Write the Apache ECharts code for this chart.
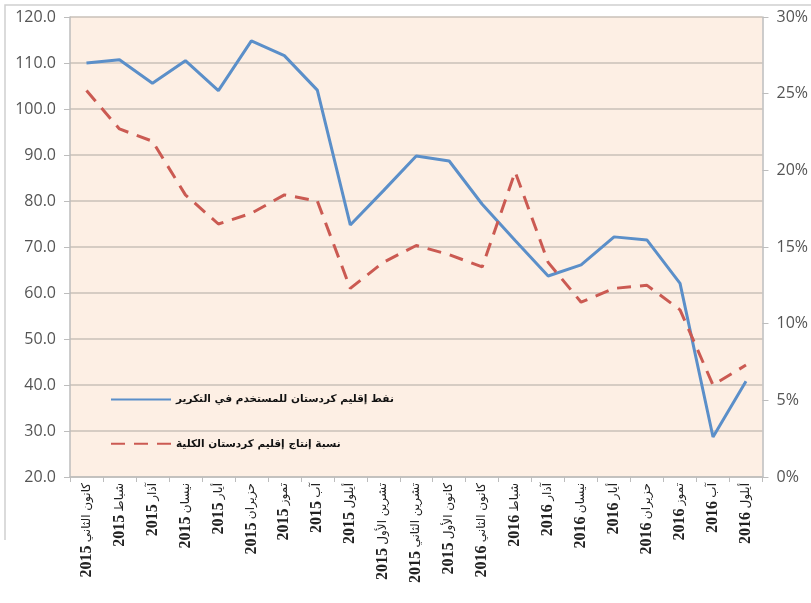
<!DOCTYPE html>
<html><head><meta charset="utf-8">
<script src="https://cdn.jsdelivr.net/npm/echarts@6/dist/echarts.min.js"></script>
<style>html,body{margin:0;padding:0;background:#fff}#c{width:811px;height:603px}</style>
</head><body><div id="c"></div>
<script>
const months = ['كانون الثاني','شباط','آذار','نيسان','أيار','حزيران','تموز','آب','أيلول','تشرين الأول','تشرين الثاني','كانون الأول','كانون الثاني','شباط','آذار','نيسان','أيار','حزيران','تموز','آب','أيلول'];
const years = ['2015','2015','2015','2015','2015','2015','2015','2015','2015','2015','2015','2015','2016','2016','2016','2016','2016','2016','2016','2016','2016'];
const oilUsed = [110.0,110.7,105.6,110.5,104.0,114.8,111.6,104.1,74.8,82.2,89.8,88.7,79.3,71.4,63.7,66.1,72.2,71.5,62.1,28.7,40.8];
const prodShare = [25.2,22.7,21.9,18.4,16.5,17.2,18.4,18.0,12.3,14.0,15.1,14.5,13.7,19.9,14.0,11.4,12.3,12.5,10.9,6.0,7.3];
const leftTicks = {min:20, max:120, interval:10};
const rightTicks = {min:0, max:30, interval:5};
const seriesNames = ['نفط إقليم كردستان للمستخدم في التكرير','نسبة إنتاج إقليم كردستان الكلية'];

const categories = months.map((m,i)=>years[i]+' '+m);
const chart = echarts.init(document.getElementById('c'));
chart.setOption({
  backgroundColor:'#fff',
  animation:false,
  graphic:[{type:'polyline',shape:{points:[[5,540],[5,5],[811,5]]},style:{stroke:'#d0d0d0',lineWidth:1.5,fill:null}}],
  grid:{left:70,right:46,top:17,bottom:126,show:true,backgroundColor:'#FDEFE4',borderWidth:0},
  legend:{orient:'vertical',left:105,top:389,itemGap:33,itemWidth:60,itemHeight:14,
    itemStyle:{opacity:0},
    textStyle:{fontFamily:'DejaVu Sans',fontSize:10.5,fontWeight:'bold',color:'#111'},
    data:seriesNames},
  xAxis:{type:'category',data:categories,boundaryGap:true,
    axisLine:{lineStyle:{color:'#bdbdbd',width:1.5}},
    axisTick:{show:true,length:5,lineStyle:{color:'#bdbdbd'}},
    axisLabel:{rotate:90,interval:0,margin:6,
      formatter:(v)=>{const p=v.split(' ');const y=p.shift();return '{y|'+y+'} {m|'+p.join(' ')+'}';},
      rich:{y:{fontFamily:'Liberation Serif',fontWeight:'bold',fontSize:16,color:'#222'},
            m:{fontFamily:'DejaVu Sans',fontSize:12,color:'#222'}}}},
  yAxis:[
    {type:'value',min:leftTicks.min,max:leftTicks.max,interval:leftTicks.interval,
     axisLine:{show:true,lineStyle:{color:'#bdbdbd',width:1.5}},
     axisTick:{show:true,length:6,lineStyle:{color:'#bdbdbd'}},
     axisLabel:{formatter:v=>v.toFixed(1),fontFamily:'Open Sans',fontSize:16,color:'#555',margin:14},
     splitLine:{lineStyle:{color:'#c9c0b8',width:1.5}}},
    {type:'value',min:rightTicks.min,max:rightTicks.max,interval:rightTicks.interval,position:'right',
     axisLine:{show:true,lineStyle:{color:'#bdbdbd',width:1.5}},
     axisTick:{show:true,length:6,lineStyle:{color:'#bdbdbd'}},
     axisLabel:{formatter:v=>v+'%',fontFamily:'Open Sans',fontSize:16,color:'#555',margin:14},
     splitLine:{show:false}}
  ],
  series:[
    {name:seriesNames[0],type:'line',data:oilUsed,yAxisIndex:0,showSymbol:false,symbol:'none',
     lineStyle:{color:'#5B8FC9',width:3},itemStyle:{color:'#5B8FC9'}},
    {name:seriesNames[1],type:'line',data:prodShare,yAxisIndex:1,showSymbol:false,symbol:'none',
     lineStyle:{color:'#CB5A52',width:3,type:[14,9]},itemStyle:{color:'#CB5A52'}}
  ]
});
</script></body></html>
